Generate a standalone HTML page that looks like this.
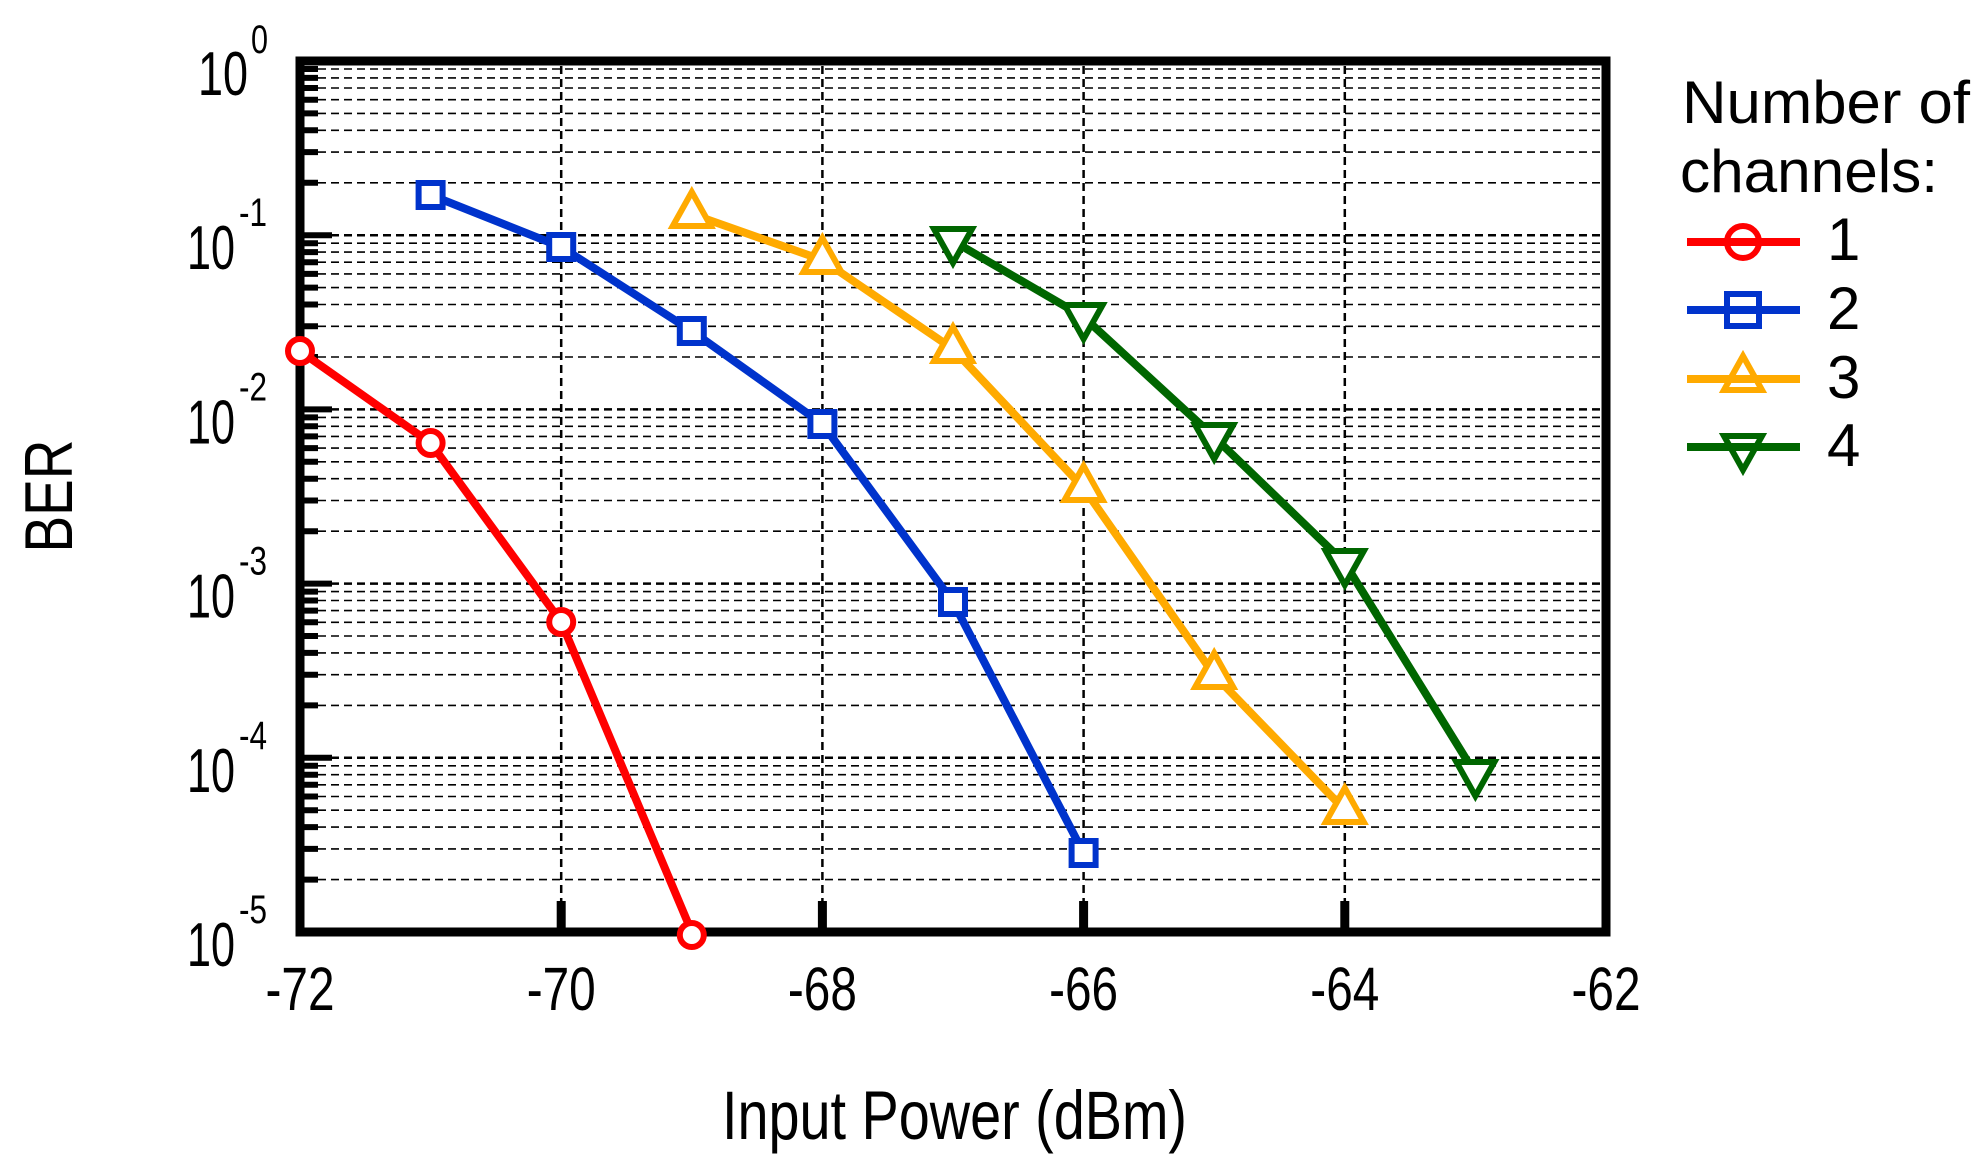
<!DOCTYPE html>
<html><head><meta charset="utf-8"><style>html,body{margin:0;padding:0;background:#fff}svg{display:block}</style></head>
<body>
<svg width="1986" height="1168" viewBox="0 0 1986 1168" xmlns="http://www.w3.org/2000/svg" font-family="Liberation Sans, sans-serif">
<defs>
<g id="dec">
<line x1="305" x2="1602" y1="0" y2="0" stroke="#000" stroke-width="2.5" stroke-dasharray="8,5"/>
<g stroke="#000" stroke-width="1.6" stroke-dasharray="8,5">
<line x1="305" x2="1602" y1="-52.4" y2="-52.4"/>
<line x1="305" x2="1602" y1="-83.1" y2="-83.1"/>
<line x1="305" x2="1602" y1="-104.9" y2="-104.9"/>
<line x1="305" x2="1602" y1="-121.8" y2="-121.8"/>
<line x1="305" x2="1602" y1="-135.5" y2="-135.5"/>
<line x1="305" x2="1602" y1="-147.2" y2="-147.2"/>
<line x1="305" x2="1602" y1="-157.3" y2="-157.3"/>
<line x1="305" x2="1602" y1="-166.2" y2="-166.2"/>
</g>
<g stroke="#000" stroke-width="6">
<line x1="300" x2="332" y1="0" y2="0"/>
<line x1="300" x2="318" y1="-52.4" y2="-52.4"/>
<line x1="300" x2="318" y1="-83.1" y2="-83.1"/>
<line x1="300" x2="318" y1="-104.9" y2="-104.9"/>
<line x1="300" x2="318" y1="-121.8" y2="-121.8"/>
<line x1="300" x2="318" y1="-135.5" y2="-135.5"/>
<line x1="300" x2="318" y1="-147.2" y2="-147.2"/>
<line x1="300" x2="318" y1="-157.3" y2="-157.3"/>
<line x1="300" x2="318" y1="-166.2" y2="-166.2"/>
</g>
</g>
</defs>
<use href="#dec" transform="translate(0,235.2)"/>
<use href="#dec" transform="translate(0,409.4)"/>
<use href="#dec" transform="translate(0,583.6)"/>
<use href="#dec" transform="translate(0,757.8)"/>
<use href="#dec" transform="translate(0,932)"/>
<g stroke="#000" stroke-width="2.5" stroke-dasharray="8,5">
<line x1="561.2" x2="561.2" y1="66" y2="928"/>
<line x1="822.4" x2="822.4" y1="66" y2="928"/>
<line x1="1083.6" x2="1083.6" y1="66" y2="928"/>
<line x1="1344.8" x2="1344.8" y1="66" y2="928"/>
</g>
<g stroke="#000" stroke-width="9">
<line x1="561.2" x2="561.2" y1="901" y2="932"/>
<line x1="822.4" x2="822.4" y1="901" y2="932"/>
<line x1="1083.6" x2="1083.6" y1="901" y2="932"/>
<line x1="1344.8" x2="1344.8" y1="901" y2="932"/>
</g>
<rect x="300" y="61" width="1306" height="871" fill="none" stroke="#000" stroke-width="9"/>

<!-- series -->
<g fill="none" stroke-width="8" stroke-linejoin="round">
<polyline stroke="#ff0000" points="300,351 430.6,443 561.2,622 691.8,932"/>
<polyline stroke="#0033cc" points="430.6,195 561.2,247 691.8,331 822.4,424 953,602 1083.6,853"/>
<polyline stroke="#ffaa00" points="691.8,214 822.4,260 953,349 1083.6,488 1214.2,675 1344.8,810"/>
<polyline stroke="#006600" points="953,241 1083.6,317 1214.2,437 1344.8,563 1475.4,774"/>
</g>
<g fill="#fff" stroke="#ff0000" stroke-width="6">
<circle cx="300" cy="351" r="12"/><circle cx="430.6" cy="443" r="12"/><circle cx="561.2" cy="622" r="12"/><circle cx="691.8" cy="935" r="12"/>
</g>
<g fill="#fff" stroke="#0033cc" stroke-width="6">
<rect x="418.6" y="183" width="24" height="24"/><rect x="549.2" y="235" width="24" height="24"/><rect x="679.8" y="319" width="24" height="24"/><rect x="810.4" y="412" width="24" height="24"/><rect x="941" y="590" width="24" height="24"/><rect x="1071.6" y="841" width="24" height="24"/>
</g>
<g fill="#fff" stroke="#ffaa00" stroke-width="6" stroke-linejoin="miter">
<polygon points="691.8,192 672.8,226 710.8,226"/>
<polygon points="822.4,238 803.4,272 841.4,272"/>
<polygon points="953,327 934,361 972,361"/>
<polygon points="1083.6,466 1064.6,500 1102.6,500"/>
<polygon points="1214.2,653 1195.2,687 1233.2,687"/>
<polygon points="1344.8,788 1325.8,822 1363.8,822"/>
</g>
<g fill="#fff" stroke="#006600" stroke-width="6" stroke-linejoin="miter">
<polygon points="953,263 934,229 972,229"/>
<polygon points="1083.6,339 1064.6,305 1102.6,305"/>
<polygon points="1214.2,459 1195.2,425 1233.2,425"/>
<polygon points="1344.8,585 1325.8,551 1363.8,551"/>
<polygon points="1475.4,796 1456.4,762 1494.4,762"/>
</g>

<!-- y labels -->
<g fill="#000">
<text x="198" y="95" font-size="62" textLength="50" lengthAdjust="spacingAndGlyphs">10</text>
<text x="251" y="53" font-size="40" textLength="17" lengthAdjust="spacingAndGlyphs">0</text>
<text x="187" y="269.2" font-size="62" textLength="48" lengthAdjust="spacingAndGlyphs">10</text>
<text x="239" y="226.2" font-size="40" textLength="28" lengthAdjust="spacingAndGlyphs">-1</text>
<text x="187" y="443.4" font-size="62" textLength="48" lengthAdjust="spacingAndGlyphs">10</text>
<text x="239" y="400.4" font-size="40" textLength="28" lengthAdjust="spacingAndGlyphs">-2</text>
<text x="187" y="617.6" font-size="62" textLength="48" lengthAdjust="spacingAndGlyphs">10</text>
<text x="239" y="574.6" font-size="40" textLength="28" lengthAdjust="spacingAndGlyphs">-3</text>
<text x="187" y="791.8" font-size="62" textLength="48" lengthAdjust="spacingAndGlyphs">10</text>
<text x="239" y="748.8" font-size="40" textLength="28" lengthAdjust="spacingAndGlyphs">-4</text>
<text x="187" y="966" font-size="62" textLength="48" lengthAdjust="spacingAndGlyphs">10</text>
<text x="239" y="923" font-size="40" textLength="28" lengthAdjust="spacingAndGlyphs">-5</text>
</g>
<!-- x labels -->
<g fill="#000" font-size="61" text-anchor="middle">
<text x="300" y="1010" textLength="69" lengthAdjust="spacingAndGlyphs">-72</text>
<text x="561.2" y="1010" textLength="69" lengthAdjust="spacingAndGlyphs">-70</text>
<text x="822.4" y="1010" textLength="69" lengthAdjust="spacingAndGlyphs">-68</text>
<text x="1083.6" y="1010" textLength="69" lengthAdjust="spacingAndGlyphs">-66</text>
<text x="1344.8" y="1010" textLength="69" lengthAdjust="spacingAndGlyphs">-64</text>
<text x="1606" y="1010" textLength="69" lengthAdjust="spacingAndGlyphs">-62</text>
</g>
<text x="722" y="1139" font-size="69" textLength="465" lengthAdjust="spacingAndGlyphs">Input Power (dBm)</text>
<text transform="translate(72,496) rotate(-90)" text-anchor="middle" font-size="68" textLength="113" lengthAdjust="spacingAndGlyphs">BER</text>

<!-- legend -->
<text x="1682" y="123" font-size="60" textLength="288" lengthAdjust="spacingAndGlyphs">Number of</text>
<text x="1680" y="192" font-size="60" textLength="258" lengthAdjust="spacingAndGlyphs">channels:</text>
<g stroke-width="8">
<line x1="1687" x2="1800" y1="242" y2="242" stroke="#ff0000"/>
<line x1="1687" x2="1800" y1="310" y2="310" stroke="#0033cc"/>
<line x1="1687" x2="1800" y1="379" y2="379" stroke="#ffaa00"/>
<line x1="1687" x2="1800" y1="447" y2="447" stroke="#006600"/>
</g>
<circle cx="1743" cy="242" r="16" fill="none" stroke="#ff0000" stroke-width="6"/>
<rect x="1727" y="294" width="32" height="32" fill="none" stroke="#0033cc" stroke-width="6"/>
<polygon points="1743,356 1724,390 1762,390" fill="none" stroke="#ffaa00" stroke-width="6"/>
<polygon points="1743,470 1724,436 1762,436" fill="none" stroke="#006600" stroke-width="6"/>
<g font-size="60" fill="#000">
<text x="1827" y="260">1</text>
<text x="1827" y="329">2</text>
<text x="1827" y="398">3</text>
<text x="1827" y="466">4</text>
</g>
</svg>
</body></html>
